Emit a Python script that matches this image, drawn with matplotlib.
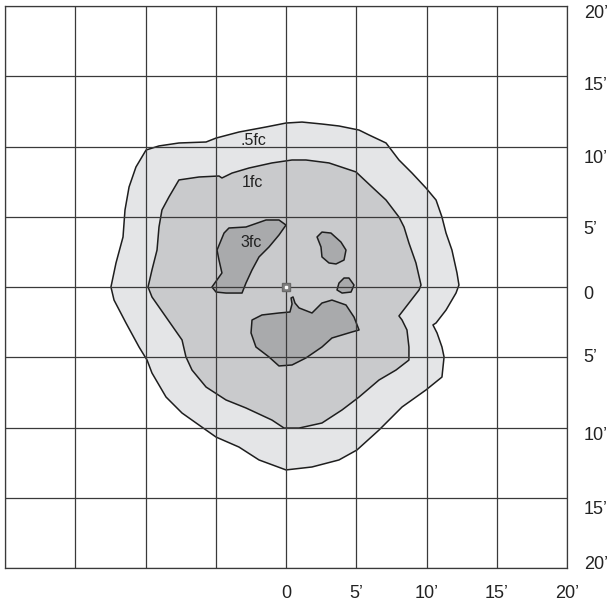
"""Illuminance footprint (.5 / 1 / 3 fc isolines) over a 5-ft grid."""

import matplotlib
matplotlib.use("Agg")
import matplotlib.pyplot as plt
from matplotlib.patches import Polygon

plt.rcParams["font.family"] = ["Liberation Sans", "DejaVu Sans"]

# isoline outlines, feet from the fixture (x east, y north)
FC05_X = [-12.46, -12.10, -11.60, -11.46, -11.17, -10.68, -9.96, -9.04, -7.62, -5.69, -4.98, -3.35,
          -1.42, 0.00, 1.14, 2.56, 3.77, 5.20, 5.91, 7.12, 8.04, 8.97, 9.96, 10.68, 11.10, 11.39,
          11.81, 12.17, 12.31, 12.10, 11.39, 10.68, 10.46, 10.75, 11.10, 11.25, 11.10, 9.96, 8.26,
          6.62, 5.05, 3.77, 1.85, 0.00, -1.92, -3.35, -4.98, -5.69, -7.40, -8.54, -9.54, -9.89,
          -10.46, -11.39, -12.24]
FC05_Y = [0.00, 1.71, 3.56, 5.48, 7.12, 8.54, 9.75, 10.04, 10.25, 10.32, 10.60, 11.03, 11.39,
          11.67, 11.74, 11.60, 11.46, 11.17, 10.82, 10.25, 9.04, 8.11, 7.05, 6.19, 4.98, 3.84,
          2.63, 1.00, 0.14, -0.43, -1.64, -2.56, -2.70, -3.27, -4.27, -4.98, -6.41, -7.33, -8.54,
          -10.18, -11.60, -12.31, -12.81, -13.02, -12.31, -11.39, -10.68, -10.18, -8.97, -7.83,
          -6.12, -5.20, -4.27, -2.56, -0.93]

FC1_X = [-9.82, -9.54, -9.18, -9.04, -8.83, -8.33, -7.62, -6.19, -4.77, -4.56, -3.84, -2.63, -1.00,
         0.43, 1.42, 3.06, 4.98, 6.12, 7.12, 8.04, 8.40, 8.75, 9.25, 9.61, 9.47, 8.75, 8.04, 8.26,
         8.61, 8.75, 8.75, 7.83, 6.62, 5.20, 3.99, 2.56, 0.93, -0.14, -1.00, -2.85, -4.27, -5.69,
         -6.69, -7.12, -7.40, -8.54, -9.54]
FC1_Y = [0.00, 1.21, 2.63, 4.27, 5.48, 6.41, 7.62, 7.83, 7.90, 7.76, 8.11, 8.47, 8.83, 9.04, 9.04,
         8.83, 8.19, 7.12, 6.19, 4.98, 4.27, 3.13, 1.71, 0.14, -0.21, -1.14, -2.06, -2.35, -3.06,
         -4.27, -5.20, -5.91, -6.62, -7.83, -8.75, -9.68, -10.04, -10.04, -9.47, -8.61, -8.04,
         -7.12, -5.91, -4.98, -3.77, -2.14, -0.71]

# 3 fc islands
FC3_A_X = [-5.27, -4.56, -4.77, -4.91, -4.41, -4.06, -2.85, -1.42, -0.50, 0.00, -0.50, -1.21,
           -1.92, -2.42, -2.85, -3.13, -4.27, -4.98]
FC3_A_Y = [0.00, 1.00, 1.92, 2.63, 3.84, 4.20, 4.27, 4.77, 4.77, 4.41, 3.70, 2.85, 2.14, 1.21,
           0.28, -0.43, -0.43, -0.36]
FC3_B_X = [2.56, 2.21, 2.49, 2.56, 3.06, 3.56, 4.13, 4.27, 3.91, 3.20]
FC3_B_Y = [3.91, 3.56, 2.85, 2.14, 1.71, 1.64, 1.92, 2.63, 3.20, 3.84]
FC3_C_X = [3.77, 3.63, 3.99, 4.63, 4.84, 4.48, 4.13]
FC3_C_Y = [0.28, -0.21, -0.43, -0.36, 0.14, 0.64, 0.64]
FC3_D_X = [-2.42, -1.71, -0.50, 0.28, 0.43, 0.36, 0.50, 0.64, 0.93, 1.85, 2.56, 3.27, 4.27, 4.84,
           5.20, 4.70, 3.27, 2.56, 1.42, 0.43, -0.50, -1.21, -2.14, -2.49]
FC3_D_Y = [-2.35, -1.99, -1.85, -1.78, -1.21, -0.78, -0.71, -1.14, -1.49, -1.85, -1.14, -0.93,
           -1.28, -2.14, -3.06, -3.20, -3.63, -4.27, -5.05, -5.55, -5.62, -4.98, -4.27, -3.27]

LABELS = [".5fc", "1fc", "3fc"]
LABEL_X = [-2.30, -2.42, -2.50]
LABEL_Y = [10.45, 7.45, 3.20]

GRID = [-20, -15, -10, -5, 0, 5, 10, 15, 20]
XTICKS = [0, 5, 10, 15, 20]
XTICK_LABELS = ["0", "5\u2019", "10\u2019", "15\u2019", "20\u2019"]
# the right-hand scale labels sit a little off their grid lines in the drawing
YTICK_POS = [19.64, 14.45, 9.32, 4.20, -0.36, -4.84, -10.46, -15.66, -19.64]
YTICK_LABELS = ["20\u2019", "15\u2019", "10\u2019", "5\u2019", "0", "5\u2019", "10\u2019",
                "15\u2019", "20\u2019"]

FILLS = {"fc05": "#e4e5e7", "fc1": "#c9cacc", "fc3": "#a9aaac"}
EDGE = "#1e1e1e"


def outline(ax, xs, ys, face):
    ax.add_patch(Polygon(list(zip(xs, ys)), closed=True, facecolor=face, edgecolor=EDGE,
                         linewidth=1.1, joinstyle="round", zorder=2))


fig = plt.figure(figsize=(6.13, 6.07), dpi=100)
ax = fig.add_axes([5 / 613, 1 - 568 / 607, 562 / 613, 562 / 607])

outline(ax, FC05_X, FC05_Y, FILLS["fc05"])
outline(ax, FC1_X, FC1_Y, FILLS["fc1"])
for xs, ys in [(FC3_A_X, FC3_A_Y), (FC3_B_X, FC3_B_Y), (FC3_C_X, FC3_C_Y), (FC3_D_X, FC3_D_Y)]:
    outline(ax, xs, ys, FILLS["fc3"])

for g in GRID:
    ax.axvline(g, color="#3a3a3a", lw=0.9, zorder=3)
    ax.axhline(g, color="#3a3a3a", lw=0.9, zorder=3)

for lab, x, y in zip(LABELS, LABEL_X, LABEL_Y):
    ax.text(x, y, lab, fontsize=11.5, color="#222222", ha="center", va="center", zorder=4)

# fixture position
ax.plot([0], [0], marker="s", ms=6, mfc="#808080", mec="#6a6a6a", zorder=5)
ax.plot([0], [0], marker="s", ms=1.5, mfc="white", mec="white", zorder=6)

ax.set_xlim(-20, 20)
ax.set_ylim(-20, 20)
ax.set_xticks(XTICKS, XTICK_LABELS)
ax.set_yticks(YTICK_POS, YTICK_LABELS)
ax.yaxis.tick_right()
ax.tick_params(length=0, labelsize=13, colors="#222222")
ax.tick_params(axis="x", pad=12)
ax.tick_params(axis="y", pad=12)
for s in ax.spines.values():
    s.set_color("#3a3a3a")
    s.set_linewidth(0.9)

fig.savefig("out.png", dpi=100)
